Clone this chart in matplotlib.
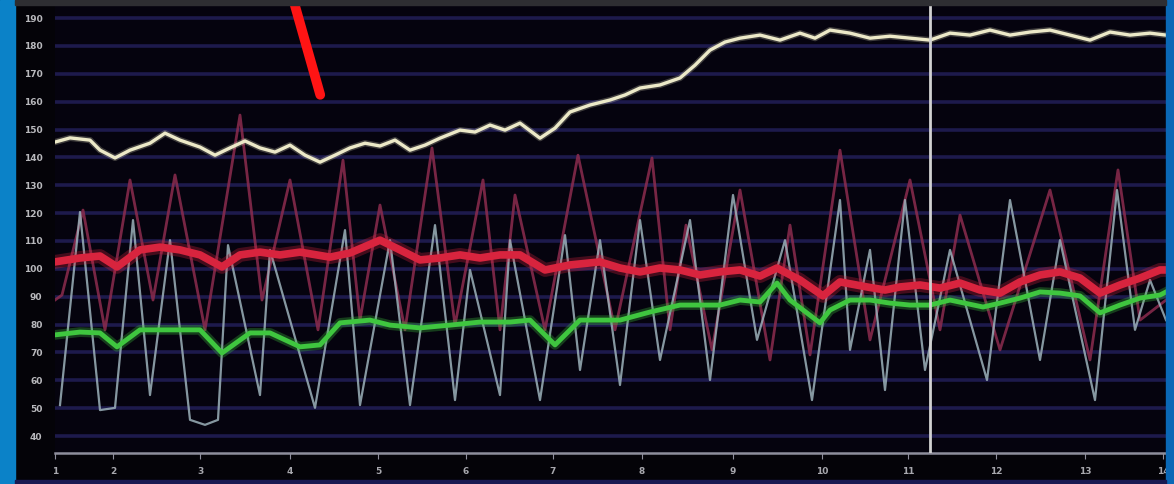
import matplotlib
matplotlib.use("Agg")
import matplotlib.pyplot as plt
import matplotlib.patheffects as pe
from matplotlib.patches import Rectangle

# ---- trend data (x = sample index, y = value) ----
white_x = [0, 15, 35, 45, 60, 75, 95, 110, 125, 145, 160, 175, 190, 205, 220, 235, 250,
           265, 280, 295, 310, 325, 340, 355, 370, 385, 405, 420, 435, 450, 465, 485, 500,
           515, 535, 555, 570, 585, 605, 625, 640, 655, 670, 685, 705, 725, 745, 760, 775,
           795, 815, 835, 855, 875, 895, 915, 935, 955, 975, 995, 1015, 1035, 1055, 1075,
           1095, 1111]
white_y = [145.5, 147, 146.2, 142.6, 139.8, 142.6, 145.1, 148.7, 146.2, 143.7, 140.8, 143.4,
           145.9, 143.4, 141.9, 144.4, 140.8, 138.3, 140.8, 143.4, 145.1, 144.1, 146.2, 142.6,
           144.4, 146.9, 149.8, 149.1, 151.6, 149.8, 152.3, 146.9, 150.5, 156.3, 158.8, 160.6,
           162.4, 164.9, 166, 168.5, 173.1, 178.5, 181.4, 182.8, 183.9, 182.1, 184.6, 182.8,
           185.7, 184.6, 182.8, 183.5, 182.8, 182.1, 184.6, 183.9, 185.7, 183.9, 185, 185.7,
           183.9, 182.1, 185, 183.9, 184.6, 183.9]

red_x = [0, 25, 45, 62, 85, 105, 125, 145, 167, 185, 205, 225, 245, 275, 295, 325, 345, 365,
         385, 405, 425, 445, 465, 490, 515, 545, 565, 585, 605, 625, 645, 665, 685, 705, 722,
         745, 768, 785, 812, 830, 845, 865, 885, 905, 925, 945, 965, 985, 1005, 1025, 1045,
         1065, 1085, 1105, 1111]
red_y = [102.5, 103.9, 104.6, 100.7, 106.8, 107.8, 106.8, 105.0, 100.7, 105.0, 106.0, 105.0,
         106.0, 104.2, 105.7, 110.3, 106.8, 103.2, 103.9, 105.0, 103.9, 105.0, 105.0, 99.6,
         101.4, 102.5, 100.3, 98.9, 100.3, 99.6, 97.8, 98.9, 99.6, 97.4, 100.3, 96.0, 90.3,
         95.3, 93.5, 92.4, 93.5, 94.2, 93.1, 94.9, 92.4, 91.3, 95.3, 97.8, 98.9, 96.7, 91.3,
         94.2, 96.7, 99.6, 99.6]

green_x = [0, 25, 45, 62, 85, 105, 145, 167, 195, 215, 245, 265, 285, 315, 335, 365, 395,
           425, 455, 475, 500, 525, 565, 595, 625, 645, 665, 685, 705, 722, 735, 765, 775,
           795, 815, 835, 855, 875, 895, 928, 945, 965, 985, 1005, 1025, 1045, 1065, 1085,
           1105, 1111]
green_y = [76.3, 77.3, 77.0, 72.0, 78.1, 78.1, 78.1, 69.8, 77.0, 77.0, 72.0, 72.7, 80.6, 81.6,
           79.8, 78.8, 79.8, 80.9, 80.9, 81.6, 72.7, 81.6, 81.6, 84.5, 87.0, 87.0, 87.0, 88.8,
           88.1, 94.9, 88.8, 80.6, 85.2, 88.8, 88.8, 87.7, 87.0, 87.0, 88.8, 86.3, 87.7, 89.5,
           91.7, 91.3, 90.3, 84.2, 87.0, 89.5, 90.6, 91.7]

# ---- waveform data ----
pleth_x = [5, 25, 45, 60, 78, 95, 115, 135, 150, 163, 173, 205, 215, 260, 290, 305, 335, 355,
           380, 400, 415, 445, 455, 485, 510, 525, 545, 565, 585, 605, 635, 655, 678, 702, 730,
           757, 785, 795, 815, 830, 850, 870, 895, 932, 955, 985, 1005, 1040, 1062, 1080,
           1095, 1111]
pleth_y = [51.1, 120.4, 49.3, 50.1, 117.5, 54.7, 110.3, 45.8, 44.0, 45.8, 108.5, 54.7, 106.8,
           50.1, 113.9, 51.1, 110.3, 51.1, 115.7, 52.9, 99.6, 54.7, 110.3, 52.9, 112.1, 63.7,
           110.3, 58.3, 117.5, 67.3, 117.5, 60.1, 126.5, 74.5, 110.3, 52.9, 124.7, 70.9, 106.8,
           56.5, 124.7, 63.7, 106.8, 60.1, 124.7, 67.3, 110.3, 52.9, 128.3, 78.1, 96.0, 81.6]

art_x = [0, 7, 28, 50, 75, 98, 120, 150, 185, 207, 235, 263, 288, 305, 325, 350, 377, 400,
         428, 445, 460, 490, 523, 560, 597, 615, 631, 657, 685, 715, 735, 755, 785, 815, 855,
         885, 905, 945, 995, 1035, 1063, 1085, 1111]
art_y = [88.8, 90.6, 121.1, 78.1, 131.9, 88.8, 133.7, 78.1, 155.2, 88.8, 131.9, 78.1, 139.0,
         81.6, 122.9, 78.1, 143.4, 79.8, 131.9, 78.1, 126.5, 78.1, 140.8, 78.1, 139.8, 78.1,
         115.7, 70.9, 128.3, 67.3, 115.7, 69.1, 142.6, 74.5, 131.9, 78.1, 119.3, 70.9, 128.3,
         67.3, 135.5, 81.6, 88.8]

# ---- axis labels ----
y_ticks = [190, 180, 170, 160, 150, 140, 130, 120, 110, 100, 90, 80, 70, 60, 50, 40]
x_ticks = [0, 58, 145, 235, 323, 411, 498, 587, 678, 767, 853, 941, 1030, 1108]
x_labels = ["1", "2", "3", "4", "5", "6", "7", "8", "9", "10", "11", "12", "13", "14"]
cursor_x = 875

W, H = 1174, 484
fig = plt.figure(figsize=(W / 100, H / 100), dpi=100, facecolor="#040308")

# frame decorations
fig.patches.append(Rectangle((0, 0), 15 / W, 1, transform=fig.transFigure,
                             color="#0b82c8", zorder=0))
fig.patches.append(Rectangle((1166 / W, 0), 8 / W, 1, transform=fig.transFigure,
                             color="#0a68b6", zorder=0))
fig.patches.append(Rectangle((15 / W, 1 - 5 / H), 1151 / W, 5 / H, transform=fig.transFigure,
                             color="#2e2e32", zorder=0))
fig.patches.append(Rectangle((15 / W, 0), 1151 / W, 4 / H, transform=fig.transFigure,
                             color="#1a1a52", zorder=0))

ax = fig.add_axes([55 / W, 31 / H, 1111 / W, 448 / H])
ax.set_facecolor("#05030e")
ax.set_xlim(0, 1111)
ax.set_ylim(33.9, 194.7)

for yv in y_ticks:
    ax.axhline(yv, color="#1d1a4c", lw=2.6, zorder=1)

ax.plot(art_x, art_y, color="#8c2c4e", lw=2.0, alpha=0.85, zorder=2)
ax.plot(pleth_x, pleth_y, color="#9db2bb", lw=1.6, alpha=0.85, zorder=3)

ax.plot(red_x, red_y, color="#d8243e", lw=5.5, zorder=4,
        path_effects=[pe.Stroke(linewidth=10, foreground="#d8243e", alpha=0.3), pe.Normal()])
ax.plot(green_x, green_y, color="#3fc63f", lw=3.5, zorder=5,
        path_effects=[pe.Stroke(linewidth=7, foreground="#3fc63f", alpha=0.3), pe.Normal()])
ax.plot(white_x, white_y, color="#ece9c8", lw=2.4, zorder=6,
        path_effects=[pe.Stroke(linewidth=4.5, foreground="#ece9c8", alpha=0.25), pe.Normal()])

ax.axvline(cursor_x, color="#d2d2d2", lw=2, zorder=7)

# pointer toward the dip in the upper trend
ax.annotate("", xy=(266, 161.5), xytext=(238, 197),
            arrowprops=dict(arrowstyle="-", color="#ff1414", lw=7, capstyle="round"),
            annotation_clip=False, zorder=8)

for s in ["top", "left", "right"]:
    ax.spines[s].set_visible(False)
ax.spines["bottom"].set_color("#8e8e9c")
ax.spines["bottom"].set_linewidth(1.8)

ax.set_yticks(y_ticks)
ax.set_yticklabels([str(v) for v in y_ticks])
ax.set_xticks(x_ticks)
ax.set_xticklabels(x_labels)
ax.tick_params(axis="y", length=0, pad=9, labelsize=6.5, labelcolor="#b9b9bd")
ax.tick_params(axis="x", length=4, color="#8e8e9c", pad=6, labelsize=6.5, labelcolor="#a8a8ae")
for t in ax.get_yticklabels() + ax.get_xticklabels():
    t.set_fontweight("bold")

fig.savefig("out.png", dpi=100, facecolor=fig.get_facecolor())
